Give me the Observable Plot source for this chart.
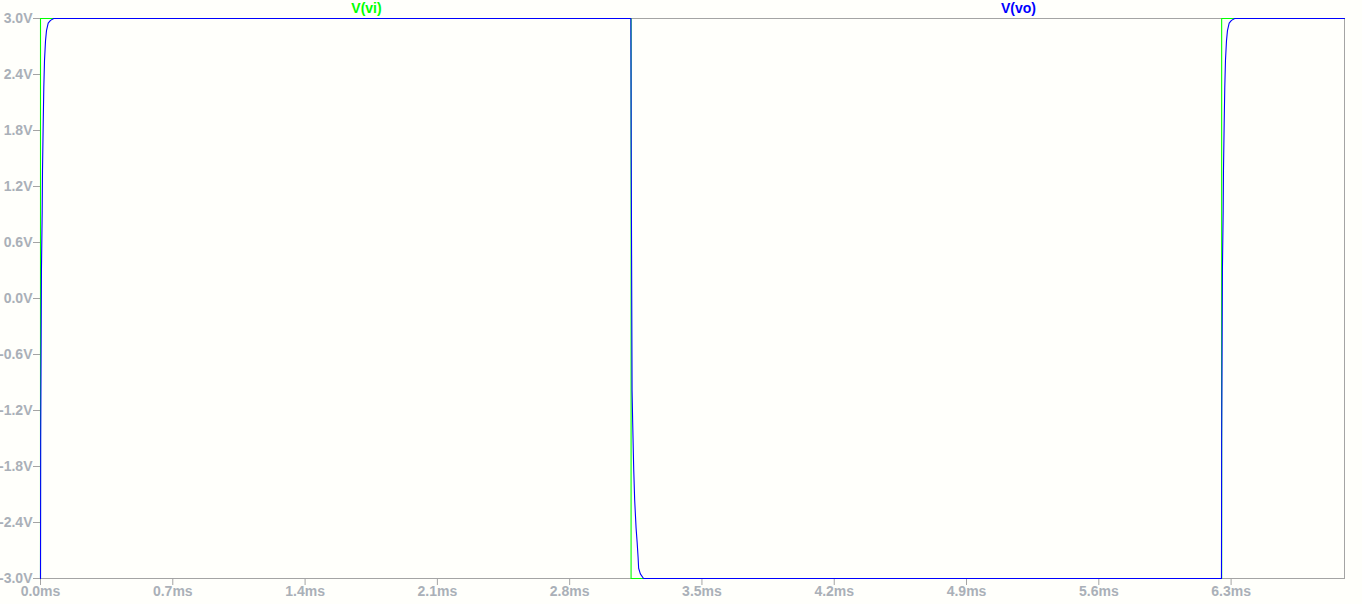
<!DOCTYPE html>
<html>
<head>
<meta charset="utf-8">
<script src="https://cdn.jsdelivr.net/npm/d3@7"></script>
<script src="https://cdn.jsdelivr.net/npm/@observablehq/plot@0.6"></script>
<style>
  html, body { margin: 0; padding: 0; background: #fffffb; }
  #chart { width: 1362px; height: 604px; }
</style>
</head>
<body>
<div id="chart"></div>
<script>
// Input square wave V(vi): time (ms) and voltage (V)
const viTime = [0, 0, 3.125, 3.125, 6.25, 6.25, 6.9];
const viVolt = [-3, 3, 3, -3, -3, 3, 3];

// Output V(vo): time (ms) and voltage (V)
const voTime = [
  0, 0.001, 0.005, 0.009, 0.0106, 0.0143, 0.0175, 0.0212, 0.0265, 0.0317, 0.0407, 0.053, 0.07,
  3.124, 3.1255, 3.1303, 3.1335, 3.1388, 3.144, 3.1515, 3.157, 3.162, 3.165, 3.174, 3.191,
  6.249, 6.25, 6.254, 6.258, 6.2596, 6.2633, 6.2665, 6.2702, 6.2755, 6.2807, 6.2897, 6.302, 6.319,
  6.9
];
const voVolt = [
  -3, -1.55, 0.3, 0.94, 1.37, 1.875, 2.26, 2.55, 2.76, 2.87, 2.95, 2.98, 3.0,
  3.0, 1.7, -0.99, -1.33, -1.82, -2.16, -2.46, -2.61, -2.77, -2.89, -2.95, -3.0,
  -3.0, -1.55, 0.3, 0.94, 1.37, 1.875, 2.26, 2.55, 2.76, 2.87, 2.95, 2.98, 3.0,
  3.0
];

// Tick values
const xTicks = [0, 0.7, 1.4, 2.1, 2.8, 3.5, 4.2, 4.9, 5.6, 6.3];
const yTicks = [-3, -2.4, -1.8, -1.2, -0.6, 0, 0.6, 1.2, 1.8, 2.4, 3];

// Trace labels
const traceNames = ["V(vi)", "V(vo)"];
const traceColors = ["#00ff00", "#0000ff"];

const vi = viTime.map((t, i) => ({t, v: viVolt[i]}));
const vo = voTime.map((t, i) => ({t, v: voVolt[i]}));

const W = 1362, H = 604, ML = 40, MR = 18, MT = 18, MB = 26;
const plotW = W - ML - MR;
const frameGray = "#a4a4a4";
const textGray = "#aab0b8";

const chart = Plot.plot({
  width: W,
  height: H,
  marginLeft: ML,
  marginRight: MR,
  marginTop: MT,
  marginBottom: MB,
  style: {
    background: "#fffffb",
    color: frameGray,
    fontFamily: "'Liberation Sans', Arial, sans-serif",
    fontSize: "14px",
    fontWeight: "bold"
  },
  x: {domain: [0, 6.9]},
  y: {domain: [-3, 3]},
  marks: [
    Plot.frame({stroke: frameGray}),
    Plot.axisX({
      ticks: xTicks,
      tickFormat: d => d.toFixed(1) + "ms",
      tickSize: 7,
      tickPadding: 1,
      label: null,
      stroke: frameGray,
      fill: textGray,
      fontSize: 14
    }),
    Plot.axisY({
      ticks: yTicks,
      tickFormat: d => (Math.abs(d) < 1e-9 ? 0 : d).toFixed(1) + "V",
      tickSize: 7,
      tickPadding: 1,
      label: null,
      stroke: frameGray,
      fill: textGray,
      fontSize: 14
    }),
    Plot.line(vi, {x: "t", y: "v", stroke: traceColors[0], strokeWidth: 1.1}),
    Plot.line(vo, {x: "t", y: "v", stroke: traceColors[1], strokeWidth: 1.1}),
    Plot.text([traceNames[0]], {
      frameAnchor: "top", dx: -plotW / 4, dy: -10, lineAnchor: "middle",
      fill: traceColors[0], fontSize: 14, fontWeight: "bold"
    }),
    Plot.text([traceNames[1]], {
      frameAnchor: "top", dx: plotW / 4, dy: -10, lineAnchor: "middle",
      fill: traceColors[1], fontSize: 14, fontWeight: "bold"
    })
  ]
});

document.getElementById("chart").appendChild(chart);
</script>
</body>
</html>
